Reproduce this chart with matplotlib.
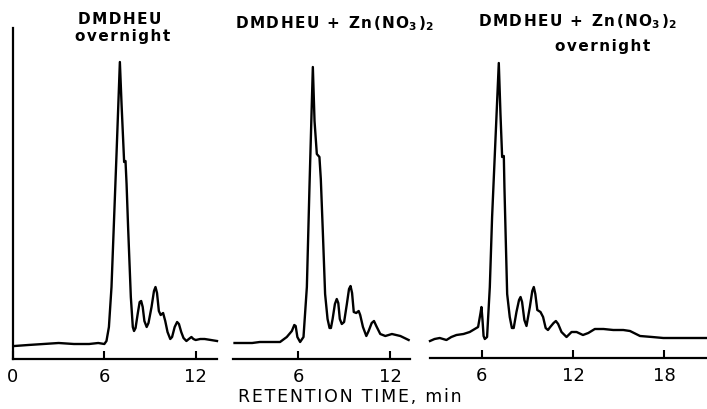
import matplotlib
matplotlib.use("Agg")
import matplotlib.pyplot as plt

# chromatogram traces: retention time (min), detector signal (arb.)
t_dmdheu = [0.1, 1.0, 2.0, 3.0, 4.0, 5.0, 5.6, 6.0, 6.14, 6.3, 6.47, 6.8, 7.02, 7.13, 7.3, 7.39,
            7.46, 7.56, 7.74, 7.87, 7.95, 8.05, 8.2, 8.32, 8.42, 8.52, 8.63, 8.78, 8.9, 9.1, 9.26,
            9.36, 9.46, 9.58, 9.7, 9.86, 10.0, 10.15, 10.33, 10.45, 10.62, 10.78, 10.9, 11.05,
            11.2, 11.39, 11.55, 11.72, 11.85, 12.0, 12.3, 12.59, 13.0, 13.4]
s_dmdheu = [13, 14, 15, 16, 15, 15, 16, 15, 18, 32, 72, 205, 297, 255, 197, 198,
            175, 132, 62, 32, 28, 31, 46, 57, 58, 52, 38, 32, 36, 52, 68,
            72, 66, 48, 44, 46, 38, 27, 20, 22, 32, 37, 35, 27,
            21, 18, 20, 22, 20, 19, 20, 20, 19, 18]

t_zn = [1.85, 2.5, 3.0, 3.5, 4.0, 4.5, 4.82, 5.26, 5.59, 5.75, 5.84, 5.95, 6.13, 6.35, 6.57, 6.74,
        6.96, 7.07, 7.22, 7.39, 7.48, 7.61, 7.76, 7.92, 8.05, 8.14, 8.25, 8.4, 8.52, 8.62, 8.72,
        8.85, 9.0, 9.18, 9.32, 9.42, 9.52, 9.63, 9.79, 9.95, 10.05, 10.23, 10.45, 10.6, 10.8,
        10.95, 11.1, 11.36, 11.69, 12.12, 12.67, 13.21]
s_zn = [16, 16, 16, 17, 17, 17, 17, 22, 28, 34, 33, 22, 17, 22, 72, 172,
        292, 238, 205, 202, 180, 128, 65, 40, 31, 31, 40, 55, 60, 56, 40,
        35, 37, 55, 70, 73, 66, 47, 46, 48, 44, 32, 23, 28, 36,
        38, 33, 25, 23, 25, 23, 19]

t_zn_on = [2.6, 2.9, 3.24, 3.68, 4.0, 4.34, 4.8, 5.21, 5.76, 5.92, 5.98, 6.05, 6.12, 6.2, 6.35,
           6.53, 6.68, 6.86, 7.12, 7.23, 7.34, 7.45, 7.49, 7.58, 7.67, 7.84, 7.98, 8.1, 8.28,
           8.45, 8.55, 8.65, 8.8, 8.94, 9.16, 9.32, 9.42, 9.52, 9.65, 9.86, 10.03, 10.2, 10.35,
           10.5, 10.72, 10.87, 11.02, 11.24, 11.57, 11.9, 12.23, 12.65, 13.0, 13.43, 14.0, 14.64,
           15.3, 15.74, 16.4, 17.2, 17.93, 19.0, 20.8]
s_zn_on = [17, 19, 20, 18, 21, 23, 24, 26, 31, 45, 51, 38, 22, 19, 21,
           71, 141, 204, 295, 244, 201, 202, 171, 117, 64, 41, 30, 30, 46,
           58, 61, 56, 38, 32, 51, 67, 71, 64, 48, 46, 41, 30, 28,
           31, 35, 37, 34, 26, 21, 26, 26, 23, 25, 29, 29, 28,
           28, 27, 22, 21, 20, 20, 20]

ticks_1 = [0, 6, 12]
ticks_2 = [6, 12]
ticks_3 = [6, 12, 18]

W, H = 707, 410
HS = "\u200a"  # hair space, used for the wide letter spacing of the original lettering


def px(x, y):
    return x / W, 1 - y / H


def sp(s):
    return HS.join(s)


fig = plt.figure(figsize=(7.07, 4.10), dpi=100)
ax1 = fig.add_axes([13 / W, 1 - 360 / H, 204 / W, 331 / H])
ax2 = fig.add_axes([233 / W, 1 - 360 / H, 177 / W, 331 / H])
ax3 = fig.add_axes([430 / W, 1 - 359 / H, 277 / W, 331 / H])

panels = [(ax1, t_dmdheu, s_dmdheu, ticks_1, (0, 13.4)),
          (ax2, t_zn, s_zn, ticks_2, (1.75, 13.3)),
          (ax3, t_zn_on, s_zn_on, ticks_3, (2.6, 20.8))]

for ax, t, s, tk, xl in panels:
    ax.plot(t, s, color="black", lw=1.7, solid_joinstyle="round", clip_on=False)
    ax.set_xlim(*xl)
    ax.set_ylim(0, 331)
    ax.set_xticks(tk)
    ax.set_xticklabels([str(v) for v in tk])
    ax.set_yticks([])
    for side in ["top", "right", "left"]:
        ax.spines[side].set_visible(False)
    ax.spines["bottom"].set_linewidth(1.6)
    ax.tick_params(axis="x", direction="in", length=6, width=1.5, pad=6, labelsize=13)
    ax.patch.set_alpha(0)

ax1.spines["left"].set_visible(True)
ax1.spines["left"].set_linewidth(1.6)

zn_title = sp("DMDHEU + Zn(NO") + "$_\\mathbf{3}$" + HS + ")" + "$_\\mathbf{2}$"

# panel titles
fig.text(*px(120, 20), sp("DMDHEU"), ha="center", va="center", fontsize=11, fontweight="bold")
fig.text(*px(123, 37), sp("overnight"), ha="center", va="center", fontsize=11, fontweight="bold")
fig.text(*px(334, 24), zn_title, ha="center", va="center", fontsize=11, fontweight="bold")
fig.text(*px(577, 22), zn_title, ha="center", va="center", fontsize=11, fontweight="bold")
fig.text(*px(603, 46), sp("overnight"), ha="center", va="center", fontsize=11, fontweight="bold")

fig.text(*px(350, 397), sp("RETENTION TIME, min"), ha="center", va="center", fontsize=12.5)

fig.savefig("out.png", dpi=100)
